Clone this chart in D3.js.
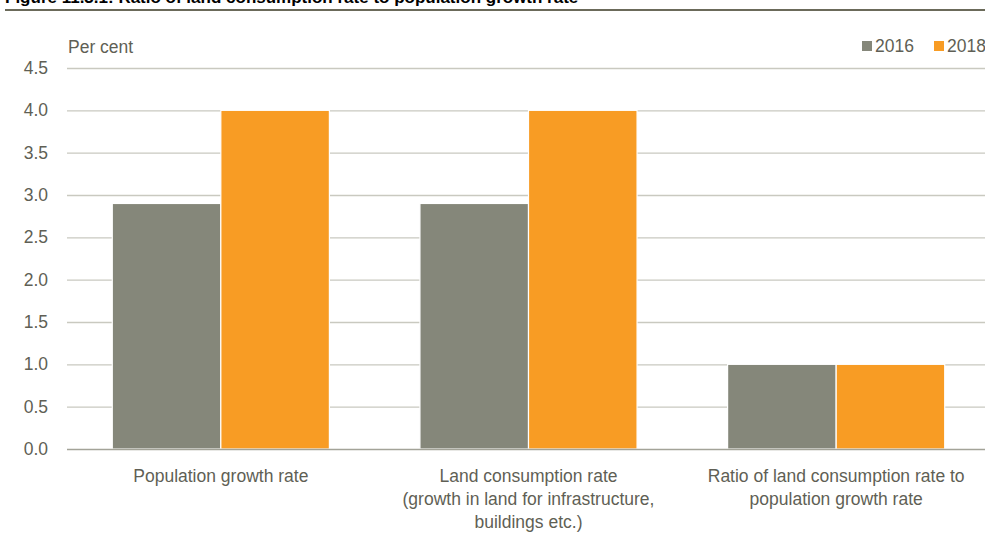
<!DOCTYPE html>
<html><head><meta charset="utf-8">
<script src="https://cdn.jsdelivr.net/npm/d3@7"></script>
<style>body{margin:0;background:#fff}svg{display:block}</style>
</head><body>
<svg id="c" width="985" height="540"></svg>
<script>
const title = "Figure 11.3.1: Ratio of land consumption rate to population growth rate";
const categories = [
  ["Population growth rate"],
  ["Land consumption rate", "(growth in land for infrastructure,", "buildings etc.)"],
  ["Ratio of land consumption rate to", "population growth rate"]
];
const seriesNames = ["2016", "2018"];
const values2016 = [2.9, 2.9, 1.0];
const values2018 = [4.0, 4.0, 1.0];
const yTicks = [0, 0.5, 1, 1.5, 2, 2.5, 3, 3.5, 4, 4.5];
const colors = ["#85877a", "#f89c24"];

const font = "'Liberation Sans Narrow','Arial Narrow','Liberation Sans',Arial,sans-serif";
const svg = d3.select("#c");
const m = {left: 67, right: 985, top: 68, bottom: 449};

svg.append("text").attr("x", 5).attr("y", 3).attr("font-family", "'Liberation Sans',Arial,sans-serif")
  .attr("font-weight", "bold").attr("font-size", 17).attr("fill", "#000").text(title);
svg.append("rect").attr("x", 5).attr("y", 9).attr("width", 980).attr("height", 2).attr("fill", "#6b6a5a");

const y = d3.scaleLinear().domain([0, 4.5]).range([m.bottom, m.top]);
const x0 = d3.scaleBand().domain(d3.range(categories.length)).range([67, 990]).paddingInner(0).paddingOuter(0);
const x1 = d3.scaleBand().domain(seriesNames).range([0, x0.bandwidth()]).paddingOuter(0.417).paddingInner(0);

// gridlines
svg.append("g").selectAll("line").data(yTicks.filter(d => d > 0)).join("line")
  .attr("x1", m.left).attr("x2", m.right).attr("y1", d => y(d) + 0.5).attr("y2", d => y(d) + 0.5)
  .attr("stroke", "#c9c9c0").attr("stroke-width", 1.3);

// y labels
svg.append("g").selectAll("text").data(yTicks).join("text")
  .attr("x", 48).attr("y", d => y(d) + 6).attr("text-anchor", "end")
  .attr("font-family", font).attr("font-size", 17.5).attr("fill", "#5f5f55")
  .text(d => d.toFixed(1));

// bars
const data = categories.map((c, i) => ({i, vals: [values2016[i], values2018[i]]}));
svg.append("g").selectAll("g").data(data).join("g")
  .attr("transform", d => `translate(${x0(d.i)},0)`)
  .selectAll("rect").data(d => d.vals.map((v, k) => ({k, v}))).join("rect")
  .attr("x", d => x1(seriesNames[d.k])).attr("width", x1.bandwidth())
  .attr("y", d => y(d.v)).attr("height", d => y(0) - y(d.v))
  .attr("fill", d => colors[d.k]).attr("stroke", "#fff").attr("stroke-width", 1.2);

// baseline
svg.append("line").attr("x1", m.left).attr("x2", m.right).attr("y1", y(0) + 0.5).attr("y2", y(0) + 0.5)
  .attr("stroke", "#a3a398").attr("stroke-width", 1.3);

// category labels
svg.append("g").selectAll("text").data(categories).join("text")
  .attr("x", (d, i) => x0(i) + x0.bandwidth() / 2).attr("y", 482)
  .attr("text-anchor", "middle").attr("font-family", font).attr("font-size", 17.5).attr("fill", "#5f5f55")
  .selectAll("tspan").data(d => d).join("tspan")
  .attr("x", function() { return this.parentNode.getAttribute("x"); })
  .attr("dy", (d, k) => k === 0 ? 0 : 23).text(d => d);

// axis title
svg.append("text").attr("x", 68).attr("y", 53).attr("font-family", font).attr("font-size", 17.5)
  .attr("fill", "#5f5f55").text("Per cent");

// legend
const legX = [862, 934];
const leg = svg.append("g").selectAll("g").data(seriesNames).join("g")
  .attr("transform", (d, i) => `translate(${legX[i]},0)`);
leg.append("rect").attr("x", 0).attr("y", 41).attr("width", 10).attr("height", 10).attr("fill", (d, i) => colors[i]);
leg.append("text").attr("x", 13).attr("y", 52).attr("font-family", font).attr("font-size", 17.5)
  .attr("fill", "#5f5f55").text(d => d);
</script>
</body></html>
